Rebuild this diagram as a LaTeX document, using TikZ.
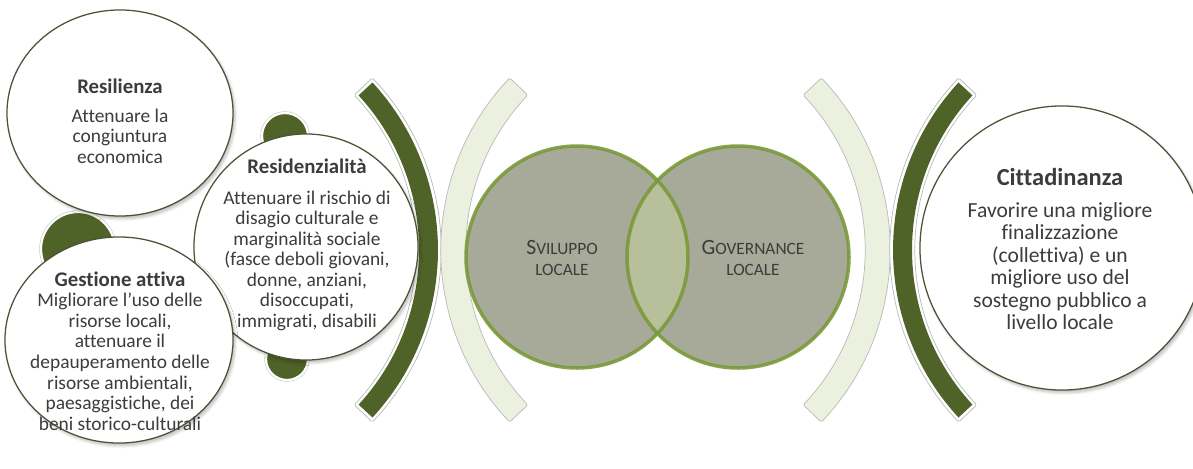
\documentclass[tikz,border=0pt]{standalone}
\usepackage{fontspec}
\setmainfont{Carlito}[Ligatures = NoCommon]
\usetikzlibrary{shapes.geometric, shadows.blur}

\definecolor{olivedark}{HTML}{4F6228}
\definecolor{arclight}{HTML}{EBF0DF}
\definecolor{venngray}{HTML}{A7AA99}
\definecolor{vennlens}{HTML}{B8C09B}
\definecolor{venngreen}{HTML}{7A9A3A}
\definecolor{rimgray}{HTML}{4C5236}
\definecolor{txtgray}{HTML}{3C3C3C}

\newcommand{\smcp}[1]{{\fontsize{12.3}{15.6}\selectfont\MakeUppercase{#1}}}

\begin{document}
\begin{tikzpicture}[x = 0.025cm, y = -0.025cm,
	bubble/.style = {ellipse, draw = rimgray, line width = 0.9pt, fill = white, inner sep = 0pt,
		blur shadow = {shadow xshift = 1.5pt, shadow yshift = -2pt, shadow opacity = 25, shadow blur steps = 5}},
	dot/.style = {circle, fill = olivedark, draw = white, line width = 1.6pt, inner sep = 0pt,
		preaction = {draw = gray!45, line width = 2.4pt}},
	venn/.style = {circle, fill = venngray, minimum size = 5.55cm, inner sep = 0pt},
	vennring/.style = {draw = venngreen, line width = 2.5pt, draw opacity = 0.9},
	bodytext/.style = {align = center, text = txtgray, font = \fontsize{13.8}{14.6}\selectfont},
	bigtext/.style = {align = center, text = txtgray, font = \fontsize{15.3}{16}\selectfont},
	vennlabel/.style = {align = center, text = txtgray, font = \fontsize{12.3}{15.6}\selectfont}]

	\useasboundingbox (0, 0) rectangle (1193, 468);

	% Small orbiting dots
	
	\node [dot, minimum size = 1.85cm] (dotleft) at (78, 249) {};
	\node [dot, minimum size = 1.15cm] (dottop) at (285, 136) {};
	\node [dot, minimum size = 1.05cm] (dotbottom) at (287, 359) {};

	% Brackets: outline bands first, dark inner bands on top
	
	\foreach \cx/\side/\tone in {191/0/white, 691/180/arclight, 640/0/arclight, 1140/180/white}
	{
		\filldraw [shift = {(\cx, 250)}, fill = \tone, draw = gray!55, line width = 0.5pt, rounded corners = 1pt]
			(\side - 43.5 : 250) arc [start angle = \side - 43.5, end angle = \side + 43.5, radius = 250]
			-- (\side + 43.5 : 225) arc [start angle = \side + 43.5, end angle = \side - 43.5, radius = 225] -- cycle;
	}
	
	\foreach \cx/\side in {191/0, 1140/180}
	{
		\fill [shift = {(\cx, 250)}, olivedark]
			(\side - 42.7 : 247) arc [start angle = \side - 42.7, end angle = \side + 42.7, radius = 247]
			-- (\side + 42.7 : 228) arc [start angle = \side + 42.7, end angle = \side - 42.7, radius = 228] -- cycle;
	}

	% Goal bubbles
	
	\node [bubble, minimum width = 5.65cm, minimum height = 5.15cm] (resil) at (120, 113) {};
	\node [bubble, minimum width = 5.6cm, minimum height = 5.65cm] (resid) at (306, 247) {};
	\node [bubble, minimum width = 5.7cm, minimum height = 5.15cm] (gest) at (119, 340) {};
	\node [bubble, minimum width = 7.1cm, minimum height = 7.1cm] (citt) at (1062, 248) {};

	% Venn of the two local dimensions
	
	\node [venn] (svil) at (577, 257) {};
	\node [venn] (gov) at (738, 257) {};
	\begin{scope}
		\clip (svil.center) circle [radius = 111];
		\fill [vennlens] (gov.center) circle [radius = 111];
	\end{scope}
	\draw [vennring] (svil.center) circle [radius = 111];
	\draw [vennring] (gov.center) circle [radius = 111];

	% Texts
	
	\node [bodytext] (resiltext) at (120, 121)
		{{\bfseries\fontsize{14.8}{15}\selectfont Resilienza}\\[6pt]
		Attenuare la\\congiuntura\\economica};
	\node [bodytext] (residtext) at (307, 245)
		{{\bfseries\fontsize{14.8}{15}\selectfont Residenzialità}\\[7pt]
		Attenuare il rischio di\\disagio culturale e\\marginalità sociale\\(fasce deboli giovani,\\donne, anziani,\\disoccupati,\\immigrati, disabili};
	\node [bodytext] (gesttext) at (120, 351)
		{{\bfseries\fontsize{14.8}{15}\selectfont Gestione attiva}\\
		Migliorare l’uso delle\\risorse locali,\\attenuare il\\depauperamento delle\\risorse ambientali,\\paesaggistiche, dei\\beni storico-culturali};
	\node [bigtext] (citttext) at (1060, 249)
		{{\bfseries\fontsize{17.4}{18}\selectfont Cittadinanza}\\[7pt]
		Favorire una migliore\\finalizzazione\\(collettiva) e un\\migliore uso del\\sostegno pubblico a\\livello locale};
	
	\node [vennlabel] (sviltext) at (562, 258)
		{{\fontsize{15.5}{15.6}\selectfont S}\smcp{viluppo}\\\smcp{locale}};
	\node [vennlabel] (govtext) at (753, 258)
		{{\fontsize{15.5}{15.6}\selectfont G}\smcp{overnance}\\\smcp{locale}};

\end{tikzpicture}
\end{document}
